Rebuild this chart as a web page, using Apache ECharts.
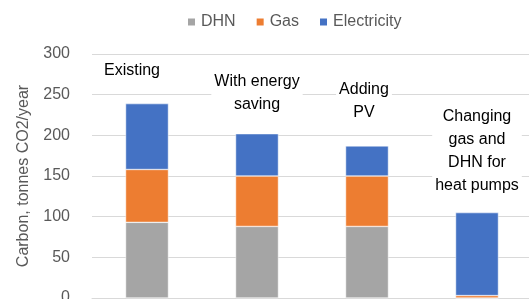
<!DOCTYPE html>
<html>
<head>
<meta charset="utf-8">
<script src="https://cdn.jsdelivr.net/npm/echarts@6/dist/echarts.min.js"></script>
<style>
html,body{margin:0;padding:0;background:#fff;}
#c{width:529px;height:299px;}
</style>
</head>
<body>
<div id="c"></div>
<script>
const categories = ['Existing', 'With energy saving', 'Adding PV', 'Changing gas and DHN for heat pumps'];
const scenarioLabels = ['Existing', 'With energy\nsaving', 'Adding\nPV', 'Changing\ngas and\nDHN for\nheat pumps'];
const dhn = [93, 88, 88, 0];
const gas = [65, 62, 62, 3];
const electricity = [81, 52, 37, 102];
const yTicks = [0, 50, 100, 150, 200, 250, 300];

const labelOffsets = [[-15, -4], [0, 0], [-3, -4], [0, 2]];
const font = 'Liberation Sans';

const chart = echarts.init(document.getElementById('c'));
chart.setOption({
  animation: false,
  textStyle: { fontFamily: font },
  legend: {
    top: 9,
    left: 181,
    itemWidth: 9,
    itemHeight: 9,
    itemGap: 19,
    icon: 'rect',
    textStyle: { color: '#595959', fontSize: 16, fontFamily: font },
    data: ['DHN', 'Gas', 'Electricity']
  },
  grid: { left: 92, right: -3, top: 54, bottom: 1, containLabel: false, outerBoundsMode: 'none' },
  xAxis: {
    type: 'category',
    data: categories,
    axisLabel: { show: false },
    axisTick: { show: false },
    axisLine: { lineStyle: { color: '#D9D9D9' } }
  },
  yAxis: {
    type: 'value',
    min: yTicks[0],
    max: yTicks[yTicks.length - 1],
    interval: 50,
    name: 'Carbon, tonnes CO2/year',
    nameLocation: 'middle',
    nameGap: 60,
    nameTextStyle: { color: '#595959', fontSize: 16, fontFamily: font },
    axisLabel: { color: '#595959', fontSize: 16, margin: 22, fontFamily: font },
    axisLine: { show: false },
    axisTick: { show: false },
    splitLine: { lineStyle: { color: '#D9D9D9', width: 1 } }
  },
  series: [
    {
      name: 'DHN', type: 'bar', stack: 'total', data: dhn, barWidth: '39%',
      itemStyle: { color: '#A5A5A5', borderColor: '#fff', borderWidth: 0.5 }
    },
    {
      name: 'Gas', type: 'bar', stack: 'total', data: gas, barWidth: '39%',
      itemStyle: { color: '#ED7D31', borderColor: '#fff', borderWidth: 0.5 }
    },
    {
      name: 'Electricity', type: 'bar', stack: 'total', barWidth: '39%',
      itemStyle: { color: '#4472C4', borderColor: '#fff', borderWidth: 0.5 },
      data: electricity.map((v, i) => ({
        value: v,
        label: {
          show: true,
          position: 'top',
          distance: 18,
          offset: labelOffsets[i],
          formatter: scenarioLabels[i],
          color: '#000',
          fontSize: 16,
          lineHeight: 23,
          fontFamily: font,
          backgroundColor: '#fff',
          padding: [0, 3],
          align: 'center'
        }
      }))
    }
  ]
});
</script>
</body>
</html>
